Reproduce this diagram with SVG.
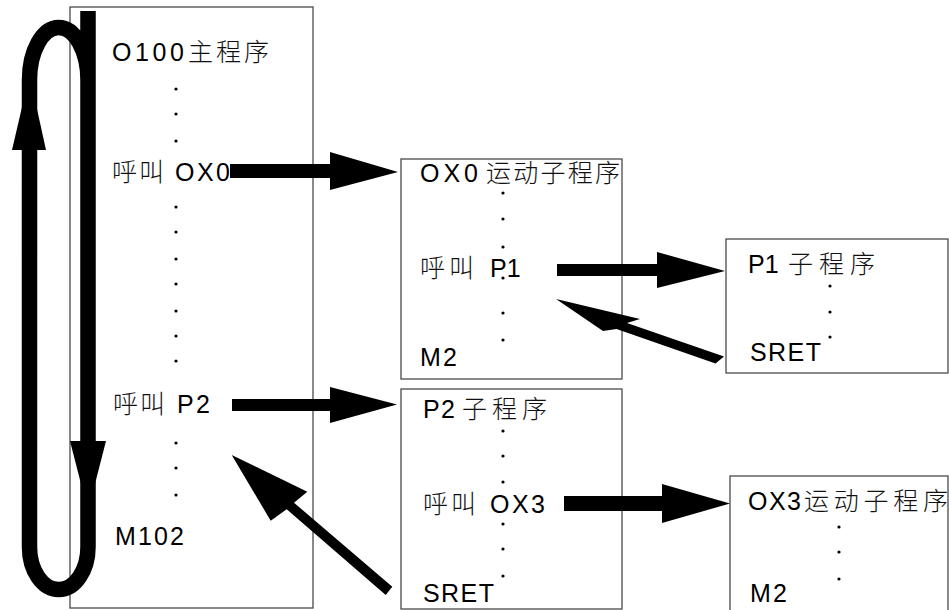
<svg xmlns="http://www.w3.org/2000/svg" width="949" height="610" viewBox="0 0 949 610">
  <style>
    .box { fill: none; stroke: #4a4a4a; stroke-width: 1.3; }
    .lat { font-family: "Liberation Sans", Arial, sans-serif; font-size: 25px; fill: #000; }
    .cjk { font-family: "Noto Sans CJK SC", "Noto Sans CJK JP", sans-serif; font-size: 25px; font-weight: 300; fill: #111; }
    .dot { fill: #000; }
    .arrow { fill: #000; stroke: none; }
    .loop { fill: none; stroke: #000; stroke-width: 15.5; }
  </style>
  <rect width="949" height="610" fill="#fff"/>

  <!-- main program O100 -->
  <g id="main">
    <rect class="box" x="70" y="7" width="243" height="601"/>
    <text class="lat" x="112" y="61" textLength="72">O100</text>
    <text class="cjk" x="188" y="61" textLength="81">主程序</text>
    <circle class="dot" cx="176" cy="89" r="1.6"/>
    <circle class="dot" cx="176" cy="114" r="1.6"/>
    <circle class="dot" cx="176" cy="141" r="1.6"/>
    <text class="cjk" x="112" y="181" textLength="52">呼叫</text>
    <text class="lat" x="175" y="181" textLength="55">OX0</text>
    <circle class="dot" cx="176" cy="207" r="1.6"/>
    <circle class="dot" cx="176" cy="232" r="1.6"/>
    <circle class="dot" cx="176" cy="259" r="1.6"/>
    <circle class="dot" cx="176" cy="284" r="1.6"/>
    <circle class="dot" cx="176" cy="311" r="1.6"/>
    <circle class="dot" cx="176" cy="336" r="1.6"/>
    <circle class="dot" cx="176" cy="361" r="1.6"/>
    <text class="cjk" x="113" y="413" textLength="52">呼叫</text>
    <text class="lat" x="177" y="413" textLength="33">P2</text>
    <circle class="dot" cx="176" cy="443" r="1.6"/>
    <circle class="dot" cx="176" cy="468" r="1.6"/>
    <circle class="dot" cx="176" cy="495" r="1.6"/>
    <text class="lat" x="115" y="545" textLength="69">M102</text>
  </g>

  <!-- motion subprogram OX0 -->
  <g id="ox0">
    <rect class="box" x="401" y="159" width="221" height="220"/>
    <text class="lat" x="420" y="182" textLength="58">OX0</text>
    <text class="cjk" x="486" y="182" textLength="134">运动子程序</text>
    <circle class="dot" cx="503" cy="193" r="1.6"/>
    <circle class="dot" cx="503" cy="219" r="1.6"/>
    <circle class="dot" cx="503" cy="247" r="1.6"/>
    <text class="cjk" x="420" y="277" textLength="54">呼叫</text>
    <text class="lat" x="490" y="277">P1</text>
    <circle class="dot" cx="503" cy="278" r="1.6"/>
    <circle class="dot" cx="503" cy="313" r="1.6"/>
    <circle class="dot" cx="503" cy="340" r="1.6"/>
    <text class="lat" x="420" y="366" textLength="37">M2</text>
  </g>

  <!-- subprogram P1 -->
  <g id="p1">
    <rect class="box" x="726" y="239" width="222" height="134"/>
    <text class="lat" x="748" y="273">P1</text>
    <text class="cjk" x="788" y="273" textLength="87">子程序</text>
    <circle class="dot" cx="830" cy="286" r="1.6"/>
    <circle class="dot" cx="830" cy="312" r="1.6"/>
    <circle class="dot" cx="830" cy="337" r="1.6"/>
    <text class="lat" x="750" y="361" textLength="71">SRET</text>
  </g>

  <!-- subprogram P2 -->
  <g id="p2">
    <rect class="box" x="401" y="389" width="221" height="220"/>
    <text class="lat" x="423" y="418" textLength="32">P2</text>
    <text class="cjk" x="462" y="418" textLength="85">子程序</text>
    <circle class="dot" cx="503" cy="431" r="1.6"/>
    <circle class="dot" cx="503" cy="456" r="1.6"/>
    <circle class="dot" cx="503" cy="482" r="1.6"/>
    <text class="cjk" x="423" y="513" textLength="53">呼叫</text>
    <text class="lat" x="490" y="513" textLength="55">OX3</text>
    <circle class="dot" cx="503" cy="524" r="1.6"/>
    <circle class="dot" cx="503" cy="549" r="1.6"/>
    <circle class="dot" cx="503" cy="576" r="1.6"/>
    <text class="lat" x="423" y="602" textLength="71">SRET</text>
  </g>

  <!-- motion subprogram OX3 -->
  <g id="ox3">
    <rect class="box" x="730" y="476" width="218" height="140"/>
    <text class="lat" x="748" y="510" textLength="53">OX3</text>
    <text class="cjk" x="804" y="510" textLength="144">运动子程序</text>
    <circle class="dot" cx="839" cy="527" r="1.6"/>
    <circle class="dot" cx="839" cy="552" r="1.6"/>
    <circle class="dot" cx="839" cy="579" r="1.6"/>
    <text class="lat" x="750" y="602" textLength="37">M2</text>
  </g>

  <!-- connectors -->
  <g id="connectors">
    <!-- main program loop -->
    <path class="loop" d="M 88 11 V 547 A 29.25 42.5 0 0 1 29.5 547 V 80 A 29.25 52.5 0 0 1 88 80"/>
    <polygon class="arrow" points="29.5,75 12,150 46,150"/>
    <polygon class="arrow" points="70,441 106,441 88,511"/>
    <!-- calls -->
    <polygon class="arrow" points="230,164 330,164 330,152 398,172 330,190 330,178 230,178"/>
    <polygon class="arrow" points="232,399 330,399 330,387 397,404.5 330,423 330,411 232,411"/>
    <polygon class="arrow" points="557,264 657,264 657,252 725,271 657,288 657,276 557,276"/>
    <polygon class="arrow" points="564,496 662,496 662,484 730,503.5 662,523 662,511 564,511"/>
    <!-- returns -->
    <polygon class="arrow" points="556,299 640,319 627,323 724,356.5 715.5,363.5 616.5,329 603,331"/>
    <polygon class="arrow" points="231.7,455 307.3,491.7 294,502.7 392.3,586.7 385.7,595 286.7,509.3 270.7,520.7"/>
  </g>
</svg>
